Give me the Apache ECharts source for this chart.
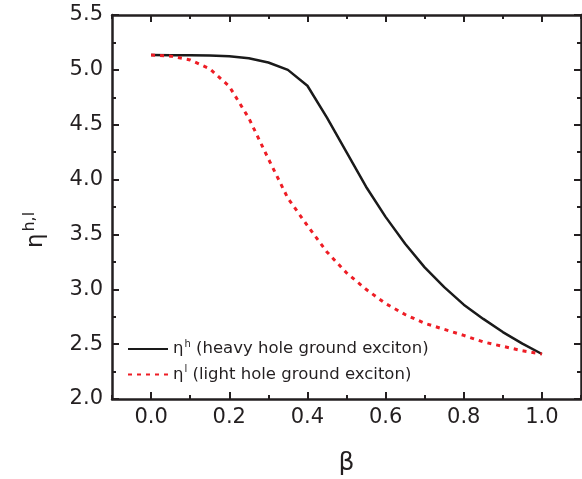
<!DOCTYPE html>
<html>
<head>
<meta charset="utf-8">
<script src="https://cdn.jsdelivr.net/npm/echarts@6/dist/echarts.min.js"></script>
<style>
html,body{margin:0;padding:0;background:#fff;}
#chart{width:582px;height:479px;}
</style>
</head>
<body>
<div id="chart"></div>
<script>
// Data
const beta = [0, 0.05, 0.1, 0.15, 0.2, 0.25, 0.3, 0.35, 0.4, 0.45, 0.5, 0.55, 0.6, 0.65, 0.7, 0.75, 0.8, 0.85, 0.9, 0.95, 1.0];
const etaHeavy = [5.135, 5.134, 5.133, 5.13, 5.124, 5.105, 5.067, 5.0, 4.855, 4.565, 4.25, 3.935, 3.66, 3.415, 3.2, 3.02, 2.86, 2.73, 2.61, 2.505, 2.41];
const etaLight = [5.135, 5.125, 5.09, 5.01, 4.85, 4.56, 4.19, 3.83, 3.58, 3.34, 3.15, 3.0, 2.87, 2.77, 2.69, 2.635, 2.58, 2.52, 2.48, 2.44, 2.41];
const xTickLabels = [0, 0.2, 0.4, 0.6, 0.8, 1.0];
const seriesNames = ['heavy', 'light'];
const legendTexts = {
  heavy: '{e|η}{s|h}{t| (heavy hole ground exciton)}',
  light: '{e|η}{s|l}{t| (light hole ground exciton)}'
};

const ink = '#231f20';
const font = 'DejaVu Sans';
const chart = echarts.init(document.getElementById('chart'));

const gridRect = { left: 112, right: 1, top: 15, bottom: 80, outerBoundsMode: 'none', containLabel: false };

function xMajor(pos, showLabel) {
  return {
    type: 'value', gridIndex: 0, position: pos, min: -0.1, max: 1.1, interval: 0.1,
    axisLine: { show: true, onZero: false, lineStyle: { color: ink, width: 2.5 } },
    axisTick: { show: true, inside: true, length: 7, customValues: xTickLabels, lineStyle: { color: ink, width: 2 } },
    axisLabel: {
      show: showLabel, customValues: xTickLabels, margin: 8,
      color: ink, fontFamily: font, fontSize: 21,
      formatter: v => (Math.abs(Math.round(v * 10)) % 2 === 0 ? v.toFixed(1) : '')
    },
    splitLine: { show: false },
    name: showLabel ? 'β' : '', nameLocation: 'middle', nameGap: 52,
    nameTextStyle: { color: ink, fontFamily: font, fontSize: 25 }
  };
}
function xMinor(pos) {
  return {
    type: 'value', gridIndex: 1, position: pos, min: -0.1, max: 1.1, interval: 0.1,
    axisLine: { show: false, onZero: false },
    axisTick: { show: true, inside: true, length: 4, lineStyle: { color: ink, width: 2 } },
    axisLabel: { show: false }, splitLine: { show: false }
  };
}
function yAxis(pos, showLabel) {
  return {
    type: 'value', gridIndex: 0, position: pos, min: 2, max: 5.5, interval: 0.5,
    axisLine: { show: true, onZero: false, lineStyle: { color: ink, width: 2.5 } },
    axisTick: { show: true, inside: true, length: 7, lineStyle: { color: ink, width: 2 } },
    minorTick: { show: true, splitNumber: 2, length: 4, lineStyle: { color: ink, width: 2 } },
    axisLabel: { show: showLabel, margin: 9, color: ink, fontFamily: font, fontSize: 21, formatter: v => v.toFixed(1) },
    splitLine: { show: false },
    name: showLabel ? '{a|η}{b|h,l}' : '', nameLocation: 'middle', nameRotate: 90, nameGap: 62,
    nameTextStyle: {
      color: ink, fontFamily: font, padding: [0, 46, 0, 0],
      rich: {
        a: { fontFamily: font, fontSize: 23, color: ink },
        b: { fontFamily: font, fontSize: 16, color: ink, verticalAlign: 'top', padding: [0, 0, 12, 2] }
      }
    }
  };
}

chart.setOption({
  backgroundColor: '#fff',
  animation: false,
  grid: [Object.assign({}, gridRect), Object.assign({}, gridRect)],
  xAxis: [xMajor('bottom', true), xMajor('top', false), xMinor('bottom'), xMinor('top')],
  yAxis: [yAxis('left', true), yAxis('right', false),
    { type: 'value', gridIndex: 1, min: 2, max: 5.5, show: false }],
  legend: {
    orient: 'vertical', left: 122, top: 334, itemWidth: 40, itemHeight: 12, itemGap: 7,
    data: seriesNames,
    formatter: n => legendTexts[n],
    itemStyle: { color: 'rgba(0,0,0,0)', borderWidth: 0, opacity: 0 },
    textStyle: {
      color: ink, fontFamily: font, fontSize: 16.5,
      rich: {
        e: { fontFamily: font, fontSize: 16.5, color: ink, lineHeight: 20 },
        s: { fontFamily: font, fontSize: 10, color: ink, verticalAlign: 'top', lineHeight: 20, padding: [0, 0, 4, 1] },
        t: { fontFamily: font, fontSize: 16.5, color: ink, lineHeight: 20 }
      }
    }
  },
  series: [
    {
      name: seriesNames[0], type: 'line', xAxisIndex: 0, yAxisIndex: 0,
      data: beta.map((b, i) => [b, etaHeavy[i]]),
      symbol: 'none', smooth: false,
      lineStyle: { color: '#1a1a1a', width: 2.5, type: 'solid' },
      itemStyle: { color: '#1a1a1a' }
    },
    {
      name: seriesNames[1], type: 'line', xAxisIndex: 0, yAxisIndex: 0,
      data: beta.map((b, i) => [b, etaLight[i]]),
      symbol: 'none', smooth: false,
      lineStyle: { color: '#ee1d25', width: 3, type: [4, 5] },
      itemStyle: { color: '#ee1d25' }
    }
  ]
});
</script>
</body>
</html>
